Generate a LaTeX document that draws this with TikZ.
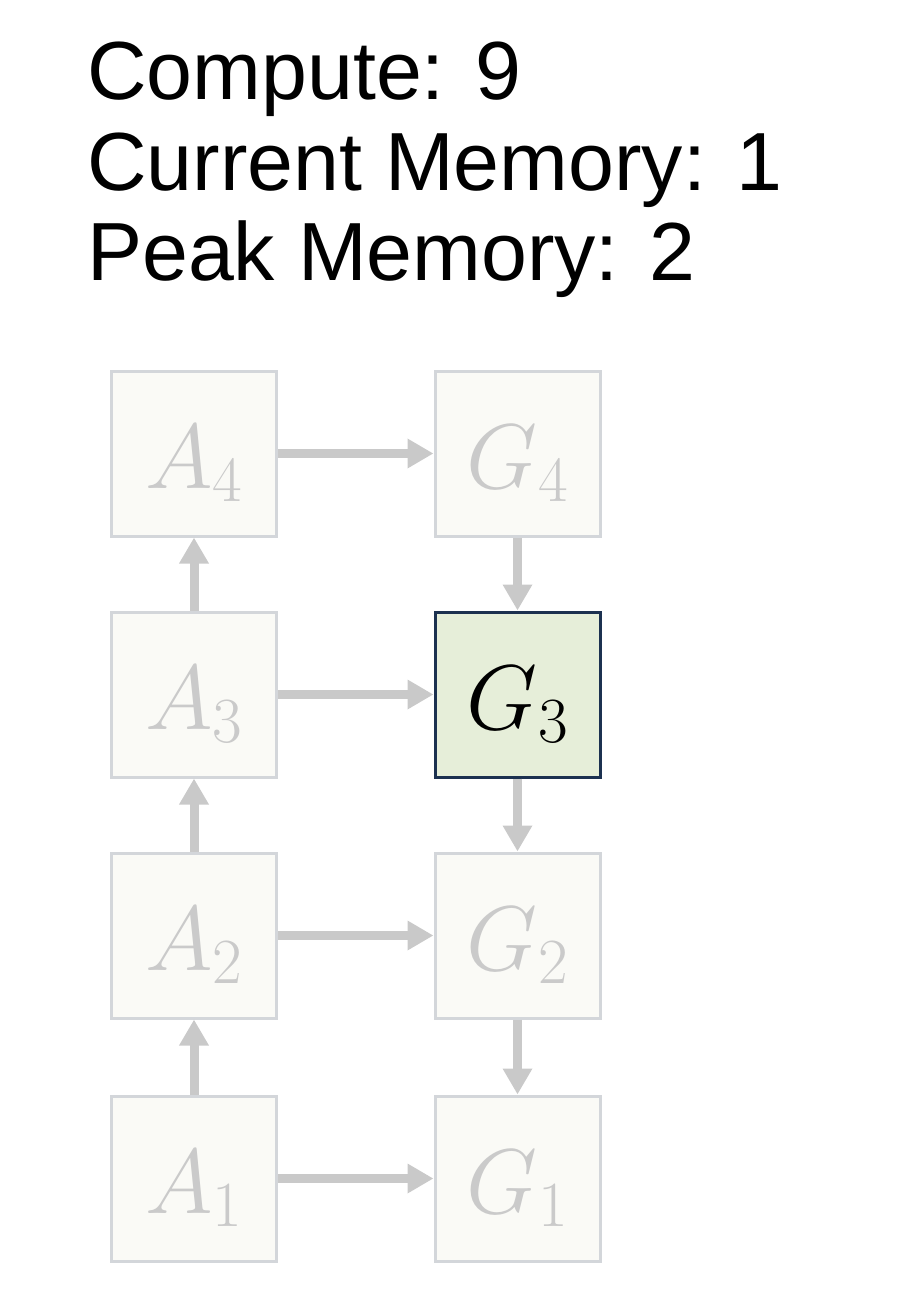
\RequirePackage{fix-cm}
\documentclass[tikz,border=0pt]{standalone}
\usepackage{fontspec}
\setmainfont{Liberation Sans}
\usetikzlibrary{arrows.meta,positioning}
\definecolor{boxline}{HTML}{D3D6DA}
\definecolor{boxfill}{HTML}{FAFAF6}
\definecolor{greytext}{HTML}{CACACA}
\definecolor{arrgrey}{HTML}{C9C9C9}
\definecolor{actfill}{HTML}{E6EED9}
\definecolor{actline}{HTML}{1C3150}

\begin{document}
\begin{tikzpicture}[x=1pt,y=-1pt,
    box/.style={draw=boxline,fill=boxfill,line width=3pt,minimum size=165pt,
        inner sep=0pt,text height=69pt,text depth=0pt,text=greytext,
        font=\fontsize{92}{100}\selectfont},
    act/.style={draw=actline,fill=actfill,text=black},
    arr/.style={draw=arrgrey,line width=9pt,-{Triangle[length=26pt,width=28pt]}},
    info/.style={anchor=base west,inner sep=0pt,font=\fontsize{82.5}{90}\selectfont}]
    % Rahmen
    \useasboundingbox (0,0) rectangle (902,1308);

    % Zaehler oben
    \node[info] (compute) at (87,100) {Compute: 9};
    \node[info] (curmem) at (87,190) {Current Memory: 1};
    \node[info] (peakmem) at (87,280) {Peak Memory: 2};

    % Knoten: A links, G rechts (Zeile 1 unten)
    \foreach \i/\y in {1/1178.5,2/935.5,3/694.5,4/453.5} {
        \node[box] (A\i) at (194,\y) {$A_{\i}$};
        \node[box] (G\i) at (517.5,\y) {$G_{\i}$};
    }
    % aktueller Knoten
    \node[box,act] (G3) at (517.5,694.5) {$G_3$};

    % Pfeile A -> G
    \foreach \i in {1,...,4}
        \draw[arr] (A\i) -- (G\i);

    % Pfeile nach oben bzw. unten
    \foreach \i/\j in {1/2,2/3,3/4} {
        \draw[arr] (A\i) -- (A\j);
        \draw[arr] (G\j) -- (G\i);
    }
\end{tikzpicture}
\end{document}
